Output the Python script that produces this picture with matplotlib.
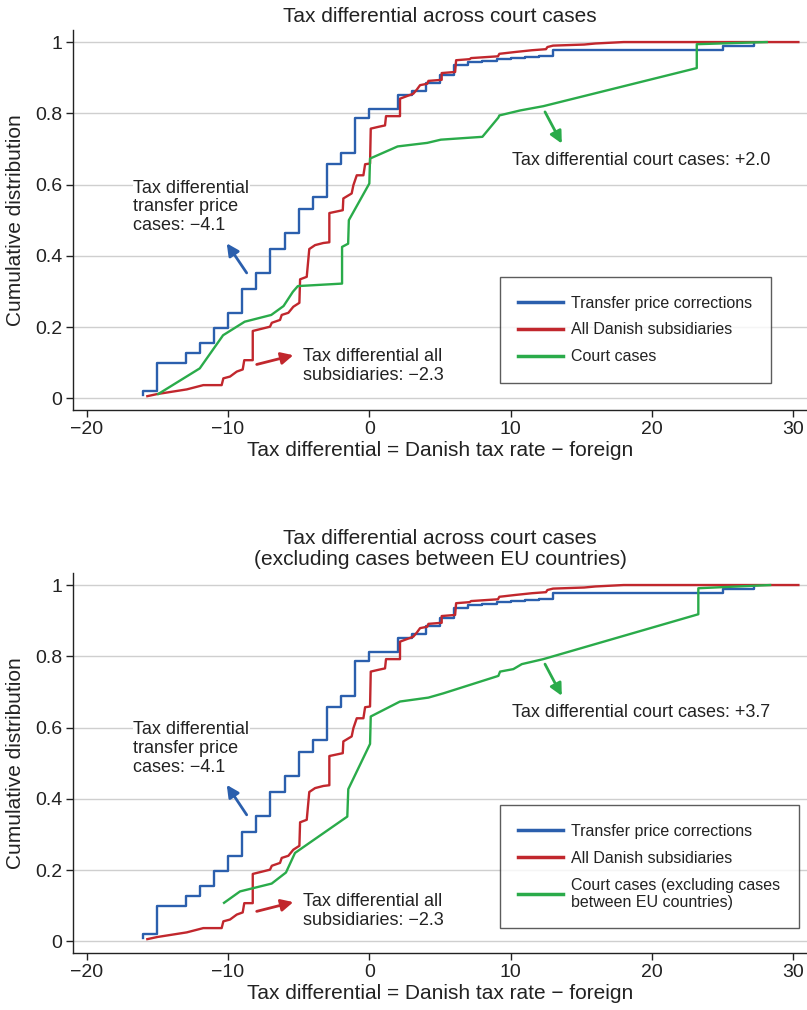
import matplotlib
matplotlib.use("Agg")
import matplotlib.pyplot as plt

plt.rcParams['font.family'] = ['Liberation Sans', 'DejaVu Sans']

# colours
BLUE = '#2b5fad'
RED = '#c1272d'
GREEN = '#2aab4a'
TXT = '#222222'

# Transfer price corrections (step CDF, steps drawn 'post')
tp_x = [-16.0, -16.0, -15.0, -13.0, -12.0, -11.0, -10.0, -9.0, -8.0, -7.0, -6.0, -5.0,
        -4.0, -3.0, -2.0, -1.0, 0.0, 2.0, 3.0, 4.0, 5.0, 6.0, 7.0, 8.0, 9.0, 10.0,
        11.0, 12.0, 13.0, 25.0, 27.2]
tp_y = [0.009, 0.02, 0.098, 0.128, 0.154, 0.198, 0.240, 0.308, 0.353, 0.419, 0.463,
        0.532, 0.565, 0.657, 0.689, 0.787, 0.811, 0.851, 0.862, 0.885, 0.907, 0.935,
        0.944, 0.948, 0.952, 0.955, 0.958, 0.960, 0.979, 0.988, 0.997]

# All Danish subsidiaries (traced outline)
all_x = [-15.71, -15.0, -12.92, -11.75, -10.45, -10.33, -9.86, -9.38, -8.96, -8.85,
         -8.25, -8.25, -7.03, -6.9, -6.32, -6.2, -5.73, -5.38, -4.95, -4.9, -4.43,
         -4.25, -3.84, -3.25, -2.83, -2.83, -1.88, -1.84, -1.25, -1.13, -0.89, -0.42,
         -0.3, 0.05, 0.1, 0.64, 1.11, 1.18, 2.17, 2.17, 2.64, 3.11, 3.35, 3.59, 4.1,
         4.18, 5.12, 5.12, 6.07, 6.14, 7.1, 7.2, 9.1, 9.2, 10.3, 11.5, 12.5, 12.6,
         13.0, 15.2, 16.0, 18.0, 30.36]
all_y = [0.006, 0.012, 0.025, 0.037, 0.037, 0.056, 0.061, 0.075, 0.081, 0.107,
         0.107, 0.189, 0.201, 0.212, 0.220, 0.234, 0.240, 0.257, 0.268, 0.334, 0.341,
         0.419, 0.430, 0.436, 0.438, 0.520, 0.528, 0.561, 0.575, 0.598, 0.626, 0.626,
         0.657, 0.659, 0.757, 0.762, 0.766, 0.792, 0.792, 0.841, 0.848, 0.855, 0.866,
         0.879, 0.883, 0.891, 0.894, 0.913, 0.916, 0.949, 0.952, 0.955, 0.960, 0.967,
         0.972, 0.977, 0.980, 0.986, 0.990, 0.993, 0.996, 1.0, 1.0]

# Court cases
cc_x = [-14.94, -12.0, -10.35, -8.82, -6.94, -6.07, -5.41, -5.06, -1.93, -1.93, -1.5,
        -1.45, 0.0, 0.05, 2.0, 4.1, 5.06, 8.0, 9.13, 9.2, 10.67, 12.31, 23.17, 23.17,
        28.12]
cc_y = [0.012, 0.084, 0.177, 0.215, 0.234, 0.259, 0.299, 0.315, 0.322, 0.425, 0.434,
        0.500, 0.603, 0.673, 0.707, 0.717, 0.726, 0.734, 0.788, 0.794, 0.808, 0.820,
        0.927, 0.994, 1.0]

# Court cases excluding cases between EU countries
ceu_x = [-10.28, -9.15, -6.91, -5.9, -5.26, -1.56, -1.49, 0.05, 0.1, 2.17, 4.18, 5.24,
         9.13, 9.25, 10.19, 10.79, 12.31, 23.28, 23.28, 28.36]
ceu_y = [0.108, 0.140, 0.162, 0.193, 0.248, 0.350, 0.427, 0.554, 0.631, 0.673, 0.684,
         0.696, 0.745, 0.757, 0.764, 0.778, 0.792, 0.918, 0.991, 1.0]

x_ticks = [-20, -10, 0, 10, 20, 30]
y_ticks = [0, 0.2, 0.4, 0.6, 0.8, 1]
y_ticklabels = ['0', '0.2', '0.4', '0.6', '0.8', '1']

panels = [
    dict(title='Tax differential across court cases',
         court_x=cc_x, court_y=cc_y, court_label='Court cases',
         court_text='Tax differential court cases: +2.0',
         court_txt_y=0.668, court_arrow=((12.43, 0.804), (13.62, 0.715)),
         tp_txt_y=0.537, tp_arrow=((-8.68, 0.352), (-10.09, 0.435)),
         all_txt_y=0.092, all_arrow=((-7.97, 0.095), (-5.38, 0.121)),
         leg_top=0.35),
    dict(title='Tax differential across court cases\n(excluding cases between EU countries)',
         court_x=ceu_x, court_y=ceu_y,
         court_label='Court cases (excluding cases\nbetween EU countries)',
         court_text='Tax differential court cases: +3.7',
         court_txt_y=0.642, court_arrow=((12.43, 0.778), (13.62, 0.689)),
         tp_txt_y=0.540, tp_arrow=((-8.68, 0.355), (-10.09, 0.439)),
         all_txt_y=0.084, all_arrow=((-7.97, 0.084), (-5.38, 0.110)),
         leg_top=0.389),
]

fig = plt.figure(figsize=(8.07, 10.10), dpi=100)
rects = [[0.0908, 0.594, 0.9092, 0.376], [0.0908, 0.0564, 0.9092, 0.376]]

for rect, p in zip(rects, panels):
    ax = fig.add_axes(rect)
    ax.set_xlim(-20.95, 30.97)
    ax.set_ylim(-0.033, 1.033)
    for y in y_ticks:
        ax.axhline(y, color='#cfcfcf', lw=1.0, zorder=0)

    ax.step(tp_x, tp_y, where='post', color=BLUE, lw=1.7, label='Transfer price corrections')
    ax.plot(all_x, all_y, color=RED, lw=1.7, label='All Danish subsidiaries')
    ax.plot(p['court_x'], p['court_y'], color=GREEN, lw=1.7, label=p['court_label'])

    ax.set_xticks(x_ticks)
    ax.set_yticks(y_ticks)
    ax.set_yticklabels(y_ticklabels)
    ax.tick_params(axis='both', labelsize=14, colors=TXT, length=5, width=1, pad=3,
                   direction='out')
    for s in ['top', 'right']:
        ax.spines[s].set_visible(False)
    for s in ['left', 'bottom']:
        ax.spines[s].set_linewidth(1.0)
        ax.spines[s].set_color('#222222')

    ax.set_xlabel('Tax differential = Danish tax rate \u2212 foreign', fontsize=15,
                  color=TXT, labelpad=2)
    ax.set_ylabel('Cumulative distribution', fontsize=15, color=TXT, labelpad=7)
    ax.set_title(p['title'], fontsize=15, color=TXT, pad=6, linespacing=1.15)

    # annotations
    ax.text(-16.7, p['tp_txt_y'], 'Tax differential\ntransfer price\ncases: \u22124.1',
            fontsize=13, color=TXT, va='center', ha='left', linespacing=1.15,
            bbox=dict(facecolor='white', edgecolor='none', pad=0.5))
    ax.annotate('', xy=p['tp_arrow'][1], xytext=p['tp_arrow'][0],
                arrowprops=dict(arrowstyle='-|>', color=BLUE, lw=2, mutation_scale=18,
                                shrinkA=0, shrinkB=0))
    ax.text(-4.67, p['all_txt_y'], 'Tax differential all\nsubsidiaries: \u22122.3',
            fontsize=13, color=TXT, va='center', ha='left', linespacing=1.15)
    ax.annotate('', xy=p['all_arrow'][1], xytext=p['all_arrow'][0],
                arrowprops=dict(arrowstyle='-|>', color=RED, lw=2, mutation_scale=18,
                                shrinkA=0, shrinkB=0))
    ax.text(10.08, p['court_txt_y'], p['court_text'], fontsize=13, color=TXT,
            va='center', ha='left')
    ax.annotate('', xy=p['court_arrow'][1], xytext=p['court_arrow'][0],
                arrowprops=dict(arrowstyle='-|>', color=GREEN, lw=2, mutation_scale=18,
                                shrinkA=0, shrinkB=0))

    leg = ax.legend(loc='upper left', bbox_to_anchor=(0.5816, p['leg_top']),
                    fontsize=11.5, frameon=True, fancybox=False, handlelength=2.8,
                    handletextpad=0.5, labelspacing=0.75, borderpad=1.15,
                    borderaxespad=0)
    leg.get_frame().set_edgecolor('#333333')
    leg.get_frame().set_linewidth(1.0)
    for t in leg.get_texts():
        t.set_color(TXT)
    for line in leg.get_lines():
        line.set_linewidth(2.5)

fig.savefig('out.png', dpi=100)
